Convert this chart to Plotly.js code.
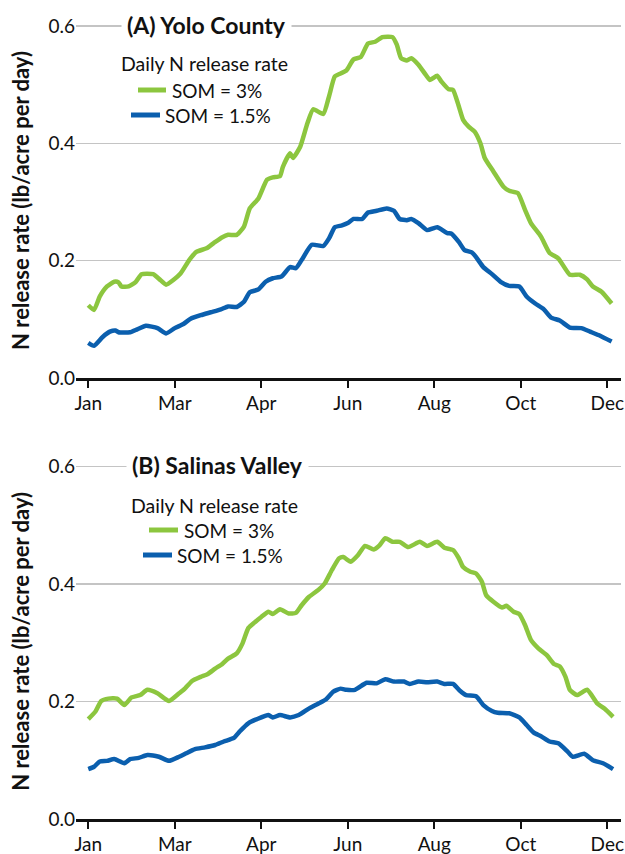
<!DOCTYPE html>
<html>
<head>
<meta charset="utf-8">
<script src="https://cdn.plot.ly/plotly-3.0.1.min.js"></script>
<style>html,body{margin:0;padding:0;background:#fff;}#chart{width:625px;height:854px;}</style>
</head>
<body>
<div id="chart"></div>
<script>
// ---- Data (day of year vs daily N release rate, lb/acre per day) ----
const monthTickDays = [0, 60, 120, 180, 240, 300, 360];
const monthTickLabels = ["Jan", "Mar", "Apr", "Jun", "Aug", "Oct", "Dec"];
const yTickVals = [0, 0.2, 0.4, 0.6];
const panelTitles = ["(A) Yolo County", "(B) Salinas Valley"];
const seriesNames = ["SOM = 3%", "SOM = 1.5%"];
const legendTitle = "Daily N release rate";

const yoloDays3 = [0,4,8,13,18,21,23,28,33,37,45,50,54,59,64,70,75,82,87,93,97,103,108,112,118,124,128,133,135,140,142,147,152,156,163,167,171,175,179,184,189,194,199,204,211,214,217,221,224,229,234,237,242,245,250,253,257,260,264,268,272,275,281,288,292,298,303,307,314,320,326,334,341,346,350,356,363];
const yoloSom3 = [0.124,0.116,0.139,0.156,0.164,0.163,0.156,0.156,0.164,0.177,0.177,0.167,0.159,0.167,0.178,0.201,0.215,0.221,0.230,0.240,0.244,0.244,0.258,0.289,0.306,0.338,0.342,0.344,0.360,0.383,0.375,0.394,0.434,0.458,0.450,0.480,0.514,0.519,0.524,0.543,0.547,0.570,0.573,0.581,0.581,0.568,0.545,0.541,0.545,0.534,0.517,0.508,0.515,0.505,0.492,0.491,0.463,0.440,0.428,0.420,0.400,0.375,0.352,0.326,0.319,0.315,0.286,0.264,0.241,0.213,0.204,0.176,0.176,0.168,0.156,0.147,0.127];

const yoloDays15 = [0,4,10,15,19,21,29,34,40,48,54,60,66,71,78,85,92,97,103,108,112,118,123,128,134,140,144,148,155,163,167,171,176,180,184,190,194,200,207,212,216,221,224,229,235,242,249,252,257,261,266,269,274,280,286,292,299,304,310,316,321,327,334,342,348,355,363];
const yoloSom15 = [0.060,0.055,0.070,0.079,0.081,0.078,0.078,0.083,0.089,0.085,0.076,0.085,0.092,0.101,0.107,0.112,0.117,0.122,0.121,0.130,0.146,0.151,0.164,0.170,0.173,0.189,0.187,0.201,0.227,0.225,0.238,0.257,0.260,0.264,0.271,0.271,0.282,0.285,0.289,0.285,0.271,0.269,0.271,0.264,0.252,0.257,0.247,0.246,0.232,0.218,0.214,0.206,0.189,0.177,0.164,0.157,0.156,0.139,0.127,0.117,0.103,0.098,0.086,0.085,0.079,0.072,0.062];

const salinasDays3 = [0,5,9,14,20,25,30,36,41,48,56,63,67,72,78,83,88,93,97,103,107,111,116,120,125,128,133,139,144,148,153,160,164,169,174,177,182,187,192,198,202,206,211,216,222,230,235,242,247,253,257,260,265,269,273,276,281,287,290,295,299,303,307,312,318,323,327,331,334,339,346,353,358,364];
const salinasSom3 = [0.170,0.183,0.201,0.205,0.205,0.194,0.207,0.211,0.220,0.214,0.201,0.214,0.222,0.235,0.242,0.247,0.256,0.264,0.273,0.282,0.299,0.325,0.336,0.344,0.353,0.349,0.357,0.350,0.351,0.364,0.378,0.391,0.401,0.424,0.444,0.446,0.438,0.449,0.465,0.459,0.466,0.478,0.472,0.472,0.463,0.472,0.465,0.472,0.462,0.458,0.444,0.429,0.421,0.418,0.404,0.381,0.370,0.360,0.363,0.353,0.349,0.330,0.305,0.291,0.279,0.264,0.260,0.242,0.220,0.211,0.220,0.197,0.188,0.174];

const salinasDays15 = [0,4,8,13,18,25,29,35,41,49,56,63,68,74,81,88,94,101,105,111,117,125,128,133,140,146,153,160,165,170,175,179,185,193,200,206,212,219,223,229,235,242,247,253,258,262,269,274,280,284,292,299,304,309,314,320,326,332,336,344,350,357,364];
const salinasSom15 = [0.085,0.089,0.098,0.099,0.102,0.095,0.102,0.104,0.109,0.106,0.099,0.106,0.112,0.119,0.122,0.126,0.132,0.138,0.149,0.163,0.170,0.177,0.173,0.177,0.173,0.177,0.188,0.197,0.204,0.217,0.222,0.220,0.220,0.232,0.231,0.238,0.234,0.234,0.230,0.234,0.233,0.234,0.230,0.230,0.218,0.211,0.209,0.194,0.184,0.181,0.180,0.173,0.160,0.147,0.141,0.132,0.129,0.116,0.106,0.111,0.100,0.095,0.085];

// ---- Styling ----
const W = 625, H = 854;
const GREEN = "#8cc63f", BLUE = "#0b5fae";
const FONT = "Lato, 'Open Sans', sans-serif";
const px = x => x / W;
const py = y => 1 - y / H;

function line(x, y, color, name, xa, ya) {
  return {x: x, y: y, type: "scatter", mode: "lines", name: name, xaxis: xa, yaxis: ya,
          line: {color: color, width: 4.5, shape: "spline", smoothing: 0.5}, showlegend: false, hoverinfo: "x+y"};
}

const traces = [
  line(yoloDays3, yoloSom3, GREEN, seriesNames[0], "x", "y"),
  line(yoloDays15, yoloSom15, BLUE, seriesNames[1], "x", "y"),
  line(salinasDays3, salinasSom3, GREEN, seriesNames[0], "x2", "y2"),
  line(salinasDays15, salinasSom15, BLUE, seriesNames[1], "x2", "y2")
];

const xDomain = [px(76), px(621)];
const xRange = [-8.5, 369.5];
function xAxis(anchor) {
  return {domain: xDomain, range: xRange, anchor: anchor,
    tickmode: "array", tickvals: monthTickDays, ticktext: monthTickLabels,
    ticks: "outside", ticklen: 7, tickwidth: 2, tickcolor: "#111",
    showline: true, linecolor: "#111", linewidth: 2.5, showgrid: false, zeroline: false,
    tickfont: {family: FONT, size: 19, color: "#111"}, fixedrange: true};
}
function yAxis(domain, anchor) {
  return {domain: domain, range: [0, 0.605], anchor: anchor,
    tickmode: "array", tickvals: yTickVals, tickformat: ".1f",
    ticks: "", showline: false, showgrid: true, gridcolor: "#c4c4c4", gridwidth: 1.5, zeroline: false,
    tickfont: {family: FONT, size: 19, color: "#111"},
    title: {text: "N release rate (lb/acre per day)", font: {family: FONT, size: 22, color: "#111", weight: "bold"}, standoff: 12},
    fixedrange: true};
}

const topDomain = [py(378), py(23)];
const botDomain = [py(819), py(463.7)];

const annotations = [];
const shapes = [];
function panelDecor(titleText, titleX, titleY, legX, legTitleY, e1LineX, e1Y, e1TextX, e2LineX, e2Y, e2TextX) {
  annotations.push({xref: "paper", yref: "paper", x: px(titleX), y: py(titleY), xanchor: "center", yanchor: "middle",
    text: "<b>" + titleText + "</b>", showarrow: false, bgcolor: "#ffffff", borderpad: 5,
    font: {family: FONT, size: 23, color: "#111"}});
  annotations.push({xref: "paper", yref: "paper", x: px(legX), y: py(legTitleY), xanchor: "center", yanchor: "middle",
    text: legendTitle, showarrow: false, font: {family: FONT, size: 19.5, color: "#111"}});
  annotations.push({xref: "paper", yref: "paper", x: px(e1TextX), y: py(e1Y), xanchor: "left", yanchor: "middle",
    text: seriesNames[0], showarrow: false, font: {family: FONT, size: 19, color: "#111"}});
  annotations.push({xref: "paper", yref: "paper", x: px(e2TextX), y: py(e2Y), xanchor: "left", yanchor: "middle",
    text: seriesNames[1], showarrow: false, font: {family: FONT, size: 19, color: "#111"}});
  shapes.push({type: "line", xref: "paper", yref: "paper", x0: px(e1LineX[0]), x1: px(e1LineX[1]), y0: py(e1Y), y1: py(e1Y),
    line: {color: GREEN, width: 5}});
  shapes.push({type: "line", xref: "paper", yref: "paper", x0: px(e2LineX[0]), x1: px(e2LineX[1]), y0: py(e2Y), y1: py(e2Y),
    line: {color: BLUE, width: 5}});
}
panelDecor(panelTitles[0], 206, 25, 204, 64, [138, 166], 90, 170, [131, 160], 115, 163);
panelDecor(panelTitles[1], 217, 465, 215, 505, [149, 178], 530, 182, [143, 172], 555, 175);

const layout = {
  width: W, height: H, margin: {l: 0, r: 0, t: 0, b: 0, autoexpand: false},
  paper_bgcolor: "#fff", plot_bgcolor: "#fff", showlegend: false,
  font: {family: FONT, color: "#111"},
  xaxis: xAxis("y"), yaxis: yAxis(topDomain, "x"),
  xaxis2: xAxis("y2"), yaxis2: yAxis(botDomain, "x2"),
  annotations: annotations, shapes: shapes
};

Plotly.newPlot("chart", traces, layout, {displayModeBar: false, staticPlot: true});
</script>
</body>
</html>
